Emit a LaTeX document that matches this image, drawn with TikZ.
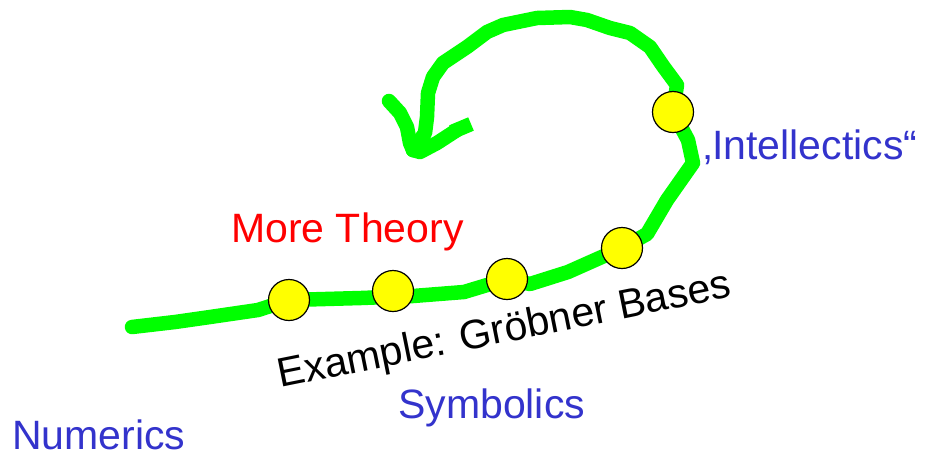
\documentclass[tikz,border=0pt]{standalone}
\usepackage{fontspec}
\setmainfont{Liberation Sans}
\definecolor{lgreen}{RGB}{0,255,0}
\definecolor{dotyellow}{RGB}{255,255,0}
\definecolor{lblue}{RGB}{51,51,204}
\definecolor{lred}{RGB}{255,0,0}
\begin{document}
\begin{tikzpicture}[x=1pt,y=-1pt,
  stroke/.style={draw=lgreen,line width=14.5pt,line join=round,line cap=round},
  dot/.style={circle,draw=black,line width=1.2pt,fill=dotyellow,minimum size=41pt,inner sep=0pt},
  lbl/.style={inner sep=0pt,font=\fontsize{41}{49}\selectfont}]
\useasboundingbox (0,0) rectangle (928,459);
% path points
\coordinate (s0) at (132,327);
\coordinate (d1) at (289,300);
\coordinate (d2) at (393,291);
\coordinate (d3) at (507,279);
\coordinate (d4) at (622,248);
\coordinate (d5) at (673,112);
\coordinate (tip) at (413,150);
\coordinate (lb) at (389,101);
\coordinate (rb) at (471,124);
% main stroke
\draw[stroke] (s0) -- (175,322) -- (210,317) -- (258,310) -- (d1) -- (361,298) -- (413,296)
  -- (464,292) -- (d3) -- (530,284) -- (568,272) -- (d4) -- (647,234) -- (667,200)
  -- (693,163) -- (688,140) -- (d5) -- (677,85) -- (663,66) -- (650,47) -- (630,33)
  -- (610,28) -- (587,20) -- (570,17) -- (537,18) -- (503,25) -- (487,32) -- (467,47)
  -- (443,63) -- (433,77) -- (428,93) -- (427,117) -- (425,133) -- (tip);
% barbs
\draw[stroke] (lb) -- (400,113) -- (407,127) -- (410,143) -- (tip);
\draw[stroke] (tip) -- (420,152) -- (437,143) -- (457,130);
\draw[draw=lgreen,line width=14.5pt,line join=round,line cap=butt] (452,132) -- (rb);
% dots
\node[dot] (c1) at (d1) {};
\node[dot] (c2) at (d2) {};
\node[dot] (c3) at (d3) {};
\node[dot] (c4) at (d4) {};
\node[dot] (c5) at (d5) {};
% labels
\node[lbl,text=lred,anchor=base west] (more) at (231,242) {More Theory};
\node[lbl,text=lblue,anchor=base west] (intel) at (703,159) {‚Intellectics“};
\node[lbl,text=black,anchor=base west,rotate=11.4] (ex) at (280,388) {Example: Gröbner Bases};
\node[lbl,text=lblue,anchor=base west] (sym) at (398,418) {Symbolics};
\node[lbl,text=lblue,anchor=base west] (num) at (12,449) {Numerics};
\end{tikzpicture}
\end{document}
